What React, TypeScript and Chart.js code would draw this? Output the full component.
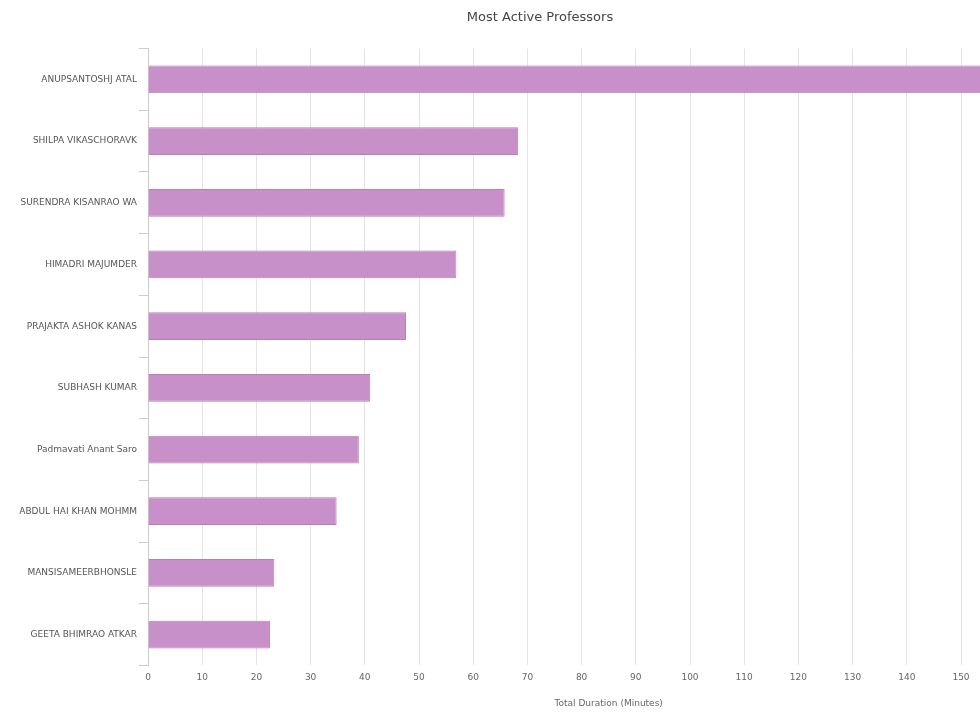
import React, { useEffect, useRef } from "react";
import { Chart, registerables } from "chart.js";

Chart.register(...registerables);

const professors = [
  "ANUPSANTOSHJ ATAL",
  "SHILPA VIKASCHORAVK",
  "SURENDRA KISANRAO WA",
  "HIMADRI MAJUMDER",
  "PRAJAKTA ASHOK KANAS",
  "SUBHASH KUMAR",
  "Padmavati Anant Saro",
  "ABDUL HAI KHAN MOHMM",
  "MANSISAMEERBHONSLE",
  "GEETA BHIMRAO ATKAR",
];

const durations = [165, 68.3, 65.8, 56.9, 47.6, 41.0, 38.9, 34.8, 23.3, 22.5];

const chartTitle = "Most Active Professors";
const xTitle = "Total Duration (Minutes)";

const FONT = "'DejaVu Sans', Verdana, sans-serif";
const W = 1085;
const H = 713;

export default function App() {
  const ref = useRef<HTMLCanvasElement | null>(null);

  useEffect(() => {
    document.body.style.margin = "0";
    document.body.style.overflow = "hidden";
    if (!ref.current) return;
    const chart = new Chart(ref.current, {
      type: "bar",
      data: {
        labels: professors,
        datasets: [
          {
            label: "Total Duration (Minutes)",
            data: durations,
            backgroundColor: "#c890c8",
            borderColor: "#b97db9",
            borderWidth: 1,
            barPercentage: 0.5,
            categoryPercentage: 0.9,
          },
        ],
      },
      options: {
        indexAxis: "y",
        animation: false,
        responsive: false,
        maintainAspectRatio: false,
        layout: { padding: { left: 0, right: 5, bottom: 2, top: 0 } },
        plugins: {
          legend: { display: false },
          tooltip: { enabled: false },
          title: {
            display: true,
            text: chartTitle,
            color: "#444",
            font: { family: FONT, size: 13, weight: "normal" },
            padding: { top: 10, bottom: 23 },
          },
        },
        scales: {
          x: {
            min: 0,
            max: 170,
            ticks: {
              stepSize: 10,
              color: "#666",
              padding: 7,
              font: { family: FONT, size: 9 },
            },
            grid: { color: "#e4e4e4", drawTicks: false },
            border: { display: false },
            title: {
              display: true,
              text: xTitle,
              color: "#666",
              font: { family: FONT, size: 9 },
              padding: { top: 8, bottom: 2 },
            },
          },
          y: {
            afterFit: (scale: any) => {
              scale.width = 148;
            },
            ticks: {
              color: "#555",
              padding: 2,
              font: { family: FONT, size: 9 },
            },
            grid: { drawOnChartArea: false, tickLength: 9, color: "#cccccc" },
            border: { display: true, color: "#cccccc" },
          },
        },
      },
    });
    return () => chart.destroy();
  }, []);

  return (
    <div style={{ position: "absolute", left: 0, top: 0, width: W, height: H }}>
      <canvas ref={ref} width={W} height={H} style={{ width: W, height: H }} />
    </div>
  );
}
